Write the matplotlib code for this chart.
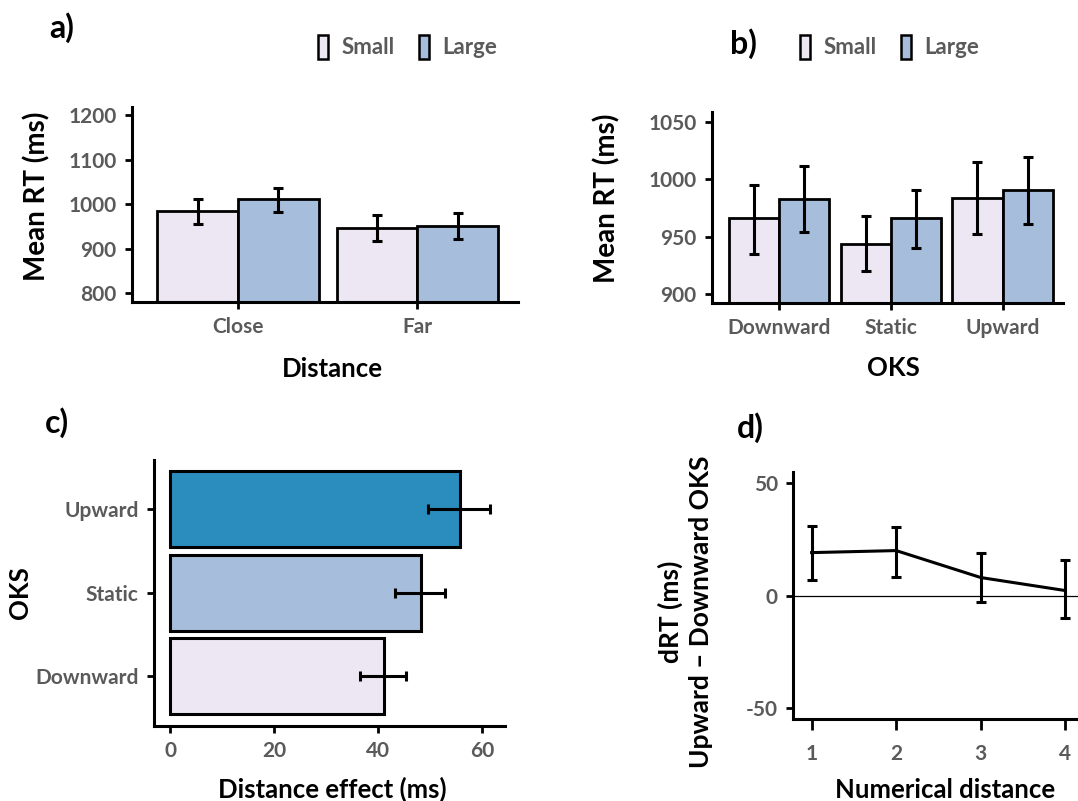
import numpy as np
import matplotlib
matplotlib.use("Agg")
import matplotlib.pyplot as plt
from matplotlib.patches import Patch

plt.rcParams['font.family'] = ['Lato', 'DejaVu Sans']
plt.rcParams['font.weight'] = 'bold'
plt.rcParams['axes.unicode_minus'] = False

# panel a: mean RT by distance and size
dist_cats = ['Close', 'Far']
a_small = [984, 946]
a_small_lo = [955, 917]
a_small_hi = [1011, 975]
a_large = [1011, 951]
a_large_lo = [983, 922]
a_large_hi = [1036, 980]

# panel b: mean RT by OKS and size
oks_cats = ['Downward', 'Static', 'Upward']
b_small = [966, 944, 984]
b_small_lo = [935, 920, 952]
b_small_hi = [995, 968, 1015]
b_large = [983, 966, 991]
b_large_lo = [954, 940, 961]
b_large_hi = [1012, 991, 1020]

# panel c: distance effect per OKS
c_vals = [41.2, 48.2, 55.8]
c_lo = [36.5, 43.3, 49.6]
c_hi = [45.3, 52.9, 61.5]

# panel d: dRT by numerical distance
d_x = [1, 2, 3, 4]
d_vals = [19.1, 20.0, 8.0, 2.2]
d_lo = [6.7, 8.4, -3.1, -10.2]
d_hi = [31.1, 30.7, 19.1, 15.6]

panel_letters = ["a", "b", "c", "d"]

c_light = '#ece7f2'
c_mid = '#a6bddb'
c_dark = '#2b8cbe'
tick_col = '#5a5a5a'

W, H = 1078, 801
fig = plt.figure(figsize=(W / 100, H / 100), dpi=100)


def box(l, t, r, b):
    return [l / W, 1 - b / H, (r - l) / W, (b - t) / H]


def style(ax):
    for s in ['top', 'right']:
        ax.spines[s].set_visible(False)
    for s in ['left', 'bottom']:
        ax.spines[s].set_linewidth(2.2)
    ax.tick_params(width=2, length=5, labelsize=15, labelcolor=tick_col, pad=6)


def yerr(vals, lo, hi):
    v = np.array(vals)
    return [v - np.array(lo), np.array(hi) - v]


bw = 0.45
ek = dict(ecolor='black', elinewidth=2.2, capsize=3.5, capthick=2.2)

# ---- a
ax = fig.add_axes(box(132, 107, 518, 302))
x = np.arange(len(dist_cats))
ax.bar(x - bw / 2, a_small, bw, color=c_light, edgecolor='black', linewidth=2,
       yerr=yerr(a_small, a_small_lo, a_small_hi), error_kw=ek)
ax.bar(x + bw / 2, a_large, bw, color=c_mid, edgecolor='black', linewidth=2,
       yerr=yerr(a_large, a_large_lo, a_large_hi), error_kw=ek)
ax.set_ylim(780, 1218)
ax.set_xlim(-0.59, 1.56)
ax.set_yticks([800, 900, 1000, 1100, 1200])
ax.set_xticks(x)
ax.set_xticklabels(dist_cats)
style(ax)
ax.set_ylabel('Mean RT (ms)', fontsize=20, fontweight='bold')
ax.yaxis.set_label_coords(-0.212, 0.54)
ax.set_xlabel('Distance', fontsize=18.5, fontweight='bold')
ax.xaxis.set_label_coords(0.52, -0.28)

# ---- b
ax = fig.add_axes(box(712, 112, 1063, 303))
x = np.arange(len(oks_cats))
ax.bar(x - bw / 2, b_small, bw, color=c_light, edgecolor='black', linewidth=2,
       yerr=yerr(b_small, b_small_lo, b_small_hi), error_kw=ek)
ax.bar(x + bw / 2, b_large, bw, color=c_mid, edgecolor='black', linewidth=2,
       yerr=yerr(b_large, b_large_lo, b_large_hi), error_kw=ek)
ax.set_ylim(892, 1059)
ax.set_xlim(-0.6, 2.54)
ax.set_yticks([900, 950, 1000, 1050])
ax.set_xticks(x)
ax.set_xticklabels(oks_cats)
style(ax)
ax.set_ylabel('Mean RT (ms)', fontsize=20, fontweight='bold')
ax.yaxis.set_label_coords(-0.262, 0.55)
ax.set_xlabel('OKS', fontsize=18.5, fontweight='bold')
ax.xaxis.set_label_coords(0.516, -0.28)

# legends
for cx in [408, 890]:
    handles = [Patch(facecolor=c_light, edgecolor='black', linewidth=1.8, label='Small'),
               Patch(facecolor=c_mid, edgecolor='black', linewidth=1.8, label='Large')]
    fig.legend(handles=handles, loc='center', bbox_to_anchor=(cx / W, 1 - 47 / H),
               ncol=2, frameon=False, handlelength=0.45, handleheight=1.3,
               handletextpad=0.6, columnspacing=1.1,
               prop={'size': 16, 'weight': 'bold'}, labelcolor=tick_col)

# ---- c
ax = fig.add_axes(box(154, 460, 505, 726))
y = np.arange(len(oks_cats))
ax.barh(y, c_vals, 0.91, color=[c_light, c_mid, c_dark], edgecolor='black', linewidth=2.2)
ax.errorbar(c_vals, y, xerr=yerr(c_vals, c_lo, c_hi), fmt='none', **ek)
ax.set_xlim(-3.1, 64.4)
ax.set_ylim(-0.6, 2.59)
ax.set_xticks([0, 20, 40, 60])
ax.set_yticks(y)
ax.set_yticklabels(oks_cats)
style(ax)
ax.set_ylabel('OKS', fontsize=18.5, fontweight='bold')
ax.yaxis.set_label_coords(-0.348, 0.5)
ax.set_xlabel('Distance effect (ms)', fontsize=18.5, fontweight='bold')
ax.xaxis.set_label_coords(0.507, -0.19)

# ---- d
ax = fig.add_axes(box(793, 472, 1078, 719))
ax.axhline(0, color='black', linewidth=0.9)
ax.errorbar(d_x, d_vals, yerr=yerr(d_vals, d_lo, d_hi), color='black', linewidth=2.2, **ek)
ax.set_xlim(0.78, 4.15)
ax.set_ylim(-55, 55)
ax.set_xticks(d_x)
ax.set_yticks([-50, 0, 50])
style(ax)
ax.tick_params(axis='x', length=8, pad=10)
ax.set_ylabel('dRT (ms)\nUpward \u2013 Downward OKS', fontsize=19, fontweight='bold',
              linespacing=1.3)
ax.yaxis.set_label_coords(-0.28, 0.433)
ax.set_xlabel('Numerical distance', fontsize=18.5, fontweight='bold')
ax.xaxis.set_label_coords(0.533, -0.24)

# panel letters
letter_px = [62, 743, 57, 750]
letter_py = [28, 44, 423, 428]
for lab, px, py in zip(panel_letters, letter_px, letter_py):
    fig.text(px / W, 1 - py / H, lab + ")", fontsize=23, fontweight='bold',
             ha='center', va='center')

fig.savefig('out.png', dpi=100)
